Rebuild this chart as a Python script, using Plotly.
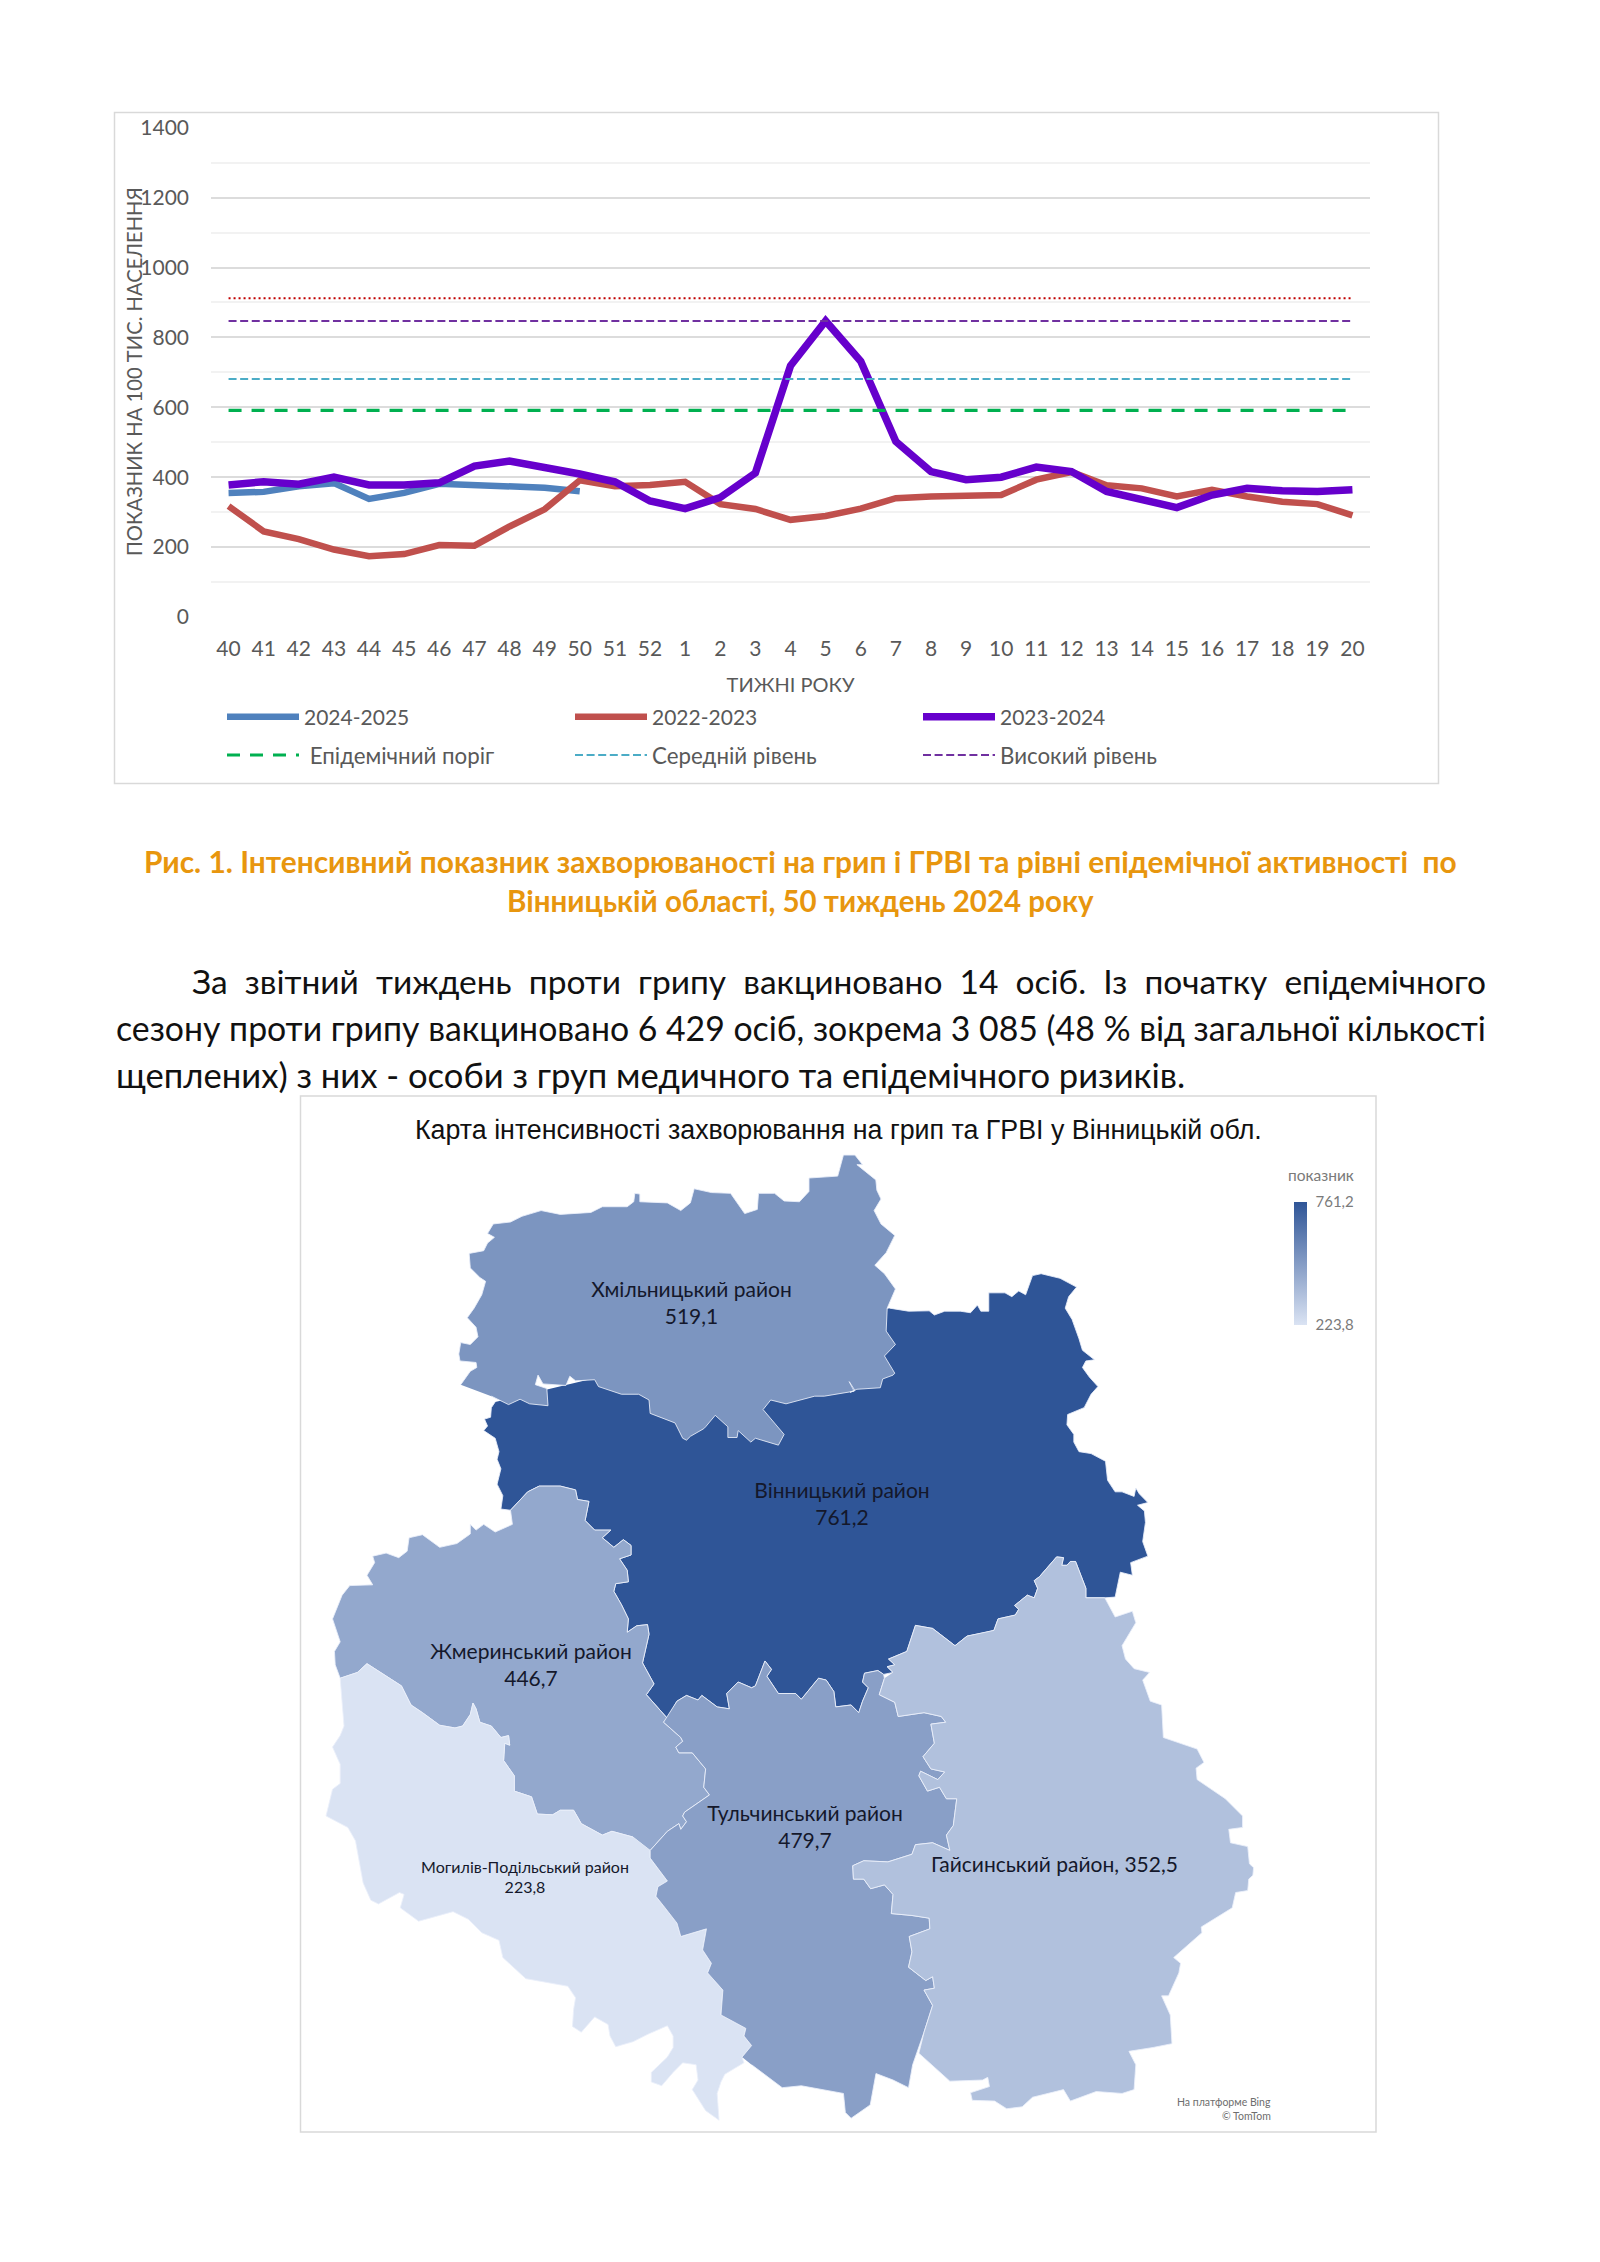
import plotly.graph_objects as go

W, H = 1600, 2262

# ---------- chart data ----------
weeks = ["40","41","42","43","44","45","46","47","48","49","50","51","52","1","2","3","4","5","6","7","8","9","10","11","12","13","14","15","16","17","18","19","20"]
s2024_25 = [355,358,374,383,338,355,381,378,373,370,360]
s2022_23 = [317,245,223,193,174,180,206,204,259,308,391,374,378,387,323,309,278,289,310,340,345,346,349,393,415,377,368,345,364,345,330,323,291]
s2023_24 = [378,387,380,400,378,378,384,432,446,429,409,387,332,310,342,412,719,847,732,502,416,393,400,429,416,359,336,313,349,368,361,359,364]
level_epidemic = 591
level_medium = 681
level_high = 847
level_very_high = 912

# ---------- map data: outlines traced on four reference crops ----------
def A(p): return [(300 + x / 2.613, 1090 + y / 2.613) for x, y in p]
def B(p): return [(850 + x / 2.904, 1090 + y / 2.613) for x, y in p]
def C(p): return [(300 + x / 2.613, 1550 + y / 2.613) for x, y in p]
def D(p): return [(850 + x / 2.904, 1550 + y / 2.613) for x, y in p]

khm_west_north = A([(420,770),(445,735),(462,725),(460,712),(418,708),(415,690),(420,660),(445,665),(465,645),(460,620),(437,595),(455,570),(475,535),(485,500),(470,490),(445,465),(442,427),(480,420),(490,400),(508,385),(490,375),(505,350),(550,345),(580,330),(630,315),(680,325),(760,320),(790,305),(855,305),(872,292),(875,270),(888,272),(888,292),(960,295),(995,315),(1020,295),(1030,258),(1075,268),(1125,270),(1162,323),(1195,312),(1198,270),(1240,270),(1265,290),(1305,292),(1330,265),(1330,230),(1405,225),(1420,170),(1450,170),(1470,195)])
khm_east = B([(20,195),(75,235),(78,262),(90,285),(70,315),(90,350),(130,380),(105,425),(72,458),(100,480),(132,520),(108,570),(105,630),(132,665),(100,695),(130,740),(125,745),(95,755),(88,778),(20,782),(0,790)])
khm_south = A([(1450,785),(1435,762),(1448,787),(1370,800),(1345,800),(1270,820),(1230,810),(1210,835),(1265,900),(1250,928),(1190,910),(1178,920),(1145,890),(1142,908),(1118,908),(1118,880),(1085,850),(1060,880),(1055,885),(1020,905),(1010,915),(1000,910),(980,870),(915,845),(912,810),(885,795),(840,795),(780,775),(770,757),(720,760),(705,748),(695,772),(635,768),(622,745),(615,770),(645,780),(648,825),(600,820),(575,808),(545,822),(520,810),(500,800)])

vin_west = A([(510,815),(500,830),(498,855),(482,860),(490,878),(480,890),(510,910),(520,945),(515,965),(525,990),(515,1030),(530,1060),(525,1095)])
vin_zhm = A([(550,1098),(595,1050),(625,1035),(680,1035),(720,1045),(725,1070),(755,1075),(745,1125),(770,1150),(812,1150),(790,1170),(820,1195),(845,1175),(865,1190),(865,1215),(835,1225),(855,1255),(858,1285),(825,1290),(820,1310),(840,1345),(858,1382)]) + C([(855,215),(880,198),(908,195),(912,220),(895,295),(925,350),(905,378),(960,440)])
vin_tul = C([(985,395),(1010,380),(1040,392),(1050,380),(1090,410),(1122,415),(1115,375),(1145,345),(1180,360),(1190,355),(1215,290),(1232,312),(1220,330),(1250,375),(1295,375),(1310,390),(1355,335),(1375,340),(1395,370),(1400,410),(1440,405),(1460,425),(1470,395),(1485,360),(1470,345),(1475,322),(1510,315),(1525,325)])
vin_hai = D([(125,320),(108,305),(130,300),(112,285),(165,265),(190,197),(240,205),(305,250),(340,225),(395,215),(418,210),(430,180),(480,170),(490,155),(478,145),(515,118),(535,125),(545,100),(535,80),(550,70),(600,18),(620,20),(615,40),(630,40),(640,30),(655,30),(685,100),(685,125),(740,125)])
vin_east = B([(770,1325),(785,1260),(820,1268),(815,1235),(865,1218),(850,1180),(858,1130),(855,1100),(835,1085),(865,1078),(840,1055),(830,1040),(825,1062),(790,1050),(770,1050),(748,1020),(742,970),(700,950),(665,945),(650,920),(650,900),(630,875),(632,848),(680,830),(700,795),(720,775),(695,750),(675,725),(685,708),(710,705),(675,680),(665,650),(645,600),(625,570),(635,540),(658,515),(610,492),(555,480),(530,485),(510,535),(490,525),(470,540),(450,530),(403,530),(403,578),(380,578),(370,562),(350,582),(320,578),(275,578),(245,588),(230,577),(170,578),(115,570)])

zhm_outer = A([(85,1382),(110,1320),(130,1295),(190,1293),(175,1268),(195,1235),(190,1218),(225,1210),(258,1222),(280,1205),(285,1170),(320,1162),(365,1195),(410,1185),(445,1160),(445,1135),(460,1150),(480,1135),(510,1155),(555,1135)])
zhm_start = C([(105,335),(92,300),(90,265),(105,240)])
zhm_tul = C([(950,450),(995,490),(1000,500),(982,515),(990,530),(1025,530),(1060,572),(1055,620),(1070,640),(1005,685),(1000,695),(1010,710),(995,730),(990,715),(960,735),(915,785)])
zhm_moh = C([(870,750),(850,745),(815,735),(790,745),(735,715),(715,680),(680,680),(660,692),(620,690),(605,645),(560,630),(560,590),(532,550),(535,505),(548,510),(545,485),(525,490),(500,460),(470,450),(460,415),(452,400),(445,430),(425,460),(405,465),(365,458),(320,425),(290,405),(265,355),(225,330),(175,297),(150,320),(105,335)])

moh_outer = C([(115,460),(105,485),(85,515),(105,560),(105,610),(85,625),(68,695),(125,725),(145,760),(165,870),(185,915),(205,925),(260,895),(272,900),(262,935),(310,970),(400,945),(440,965),(475,1000),(520,1020),(530,1065),(590,1120),(700,1140),(720,1170),(715,1200),(712,1245),(735,1260),(770,1220),(805,1240),(810,1270),(825,1298),(870,1285),(910,1265),(960,1243),(975,1270),(975,1300),(960,1325),(918,1365),(918,1390),(945,1400),(975,1365),(1000,1340),(1035,1345),(1040,1385),(1025,1410),(1060,1465),(1095,1490),(1090,1420),(1100,1390),(1110,1370),(1160,1340)])
moh_tul = C([(1155,1325),(1180,1295),(1160,1270),(1165,1250),(1100,1215),(1105,1150),(1065,1105),(1075,1080),(1052,1045),(1062,990),(995,1010),(985,975),(950,930),(930,905),(935,880),(960,865),(915,805),(915,785)])

tul_south = C([(1180,1345),(1260,1405),(1310,1400),(1420,1420),(1425,1470),(1440,1485),(1490,1450),(1505,1368)]) + D([(125,1385),(170,1405),(182,1345)])
hai_tul = D([(195,1315),(215,1260),(240,1190),(215,1150),(245,1145),(240,1115),(220,1125),(170,1090),(180,1050),(172,1010),(232,990),(230,962),(180,955),(120,950),(125,900),(100,875),(60,885),(40,860),(10,860),(8,825),(40,812),(110,815),(180,795),(190,770),(240,765),(290,785),(280,745),(300,720),(310,650),(280,650),(260,620),(225,630),(200,590),(205,578),(255,600),(275,580),(235,572),(212,540),(245,505),(235,455),(278,450),(265,435),(215,425),(140,435),(130,398),(85,378),(100,335)])
hai_outer = D([(770,175),(820,160),(830,190),(790,250),(800,285),(825,310),(870,320),(850,340),(872,395),(905,405),(910,490),(1008,520),(1028,555),(1005,570),(1008,600),(1090,650),(1140,695),(1140,725),(1100,730),(1105,765),(1155,775),(1160,820),(1172,830),(1170,850),(1158,860),(1155,890),(1120,895),(1110,935),(1020,985),(1022,1000),(940,1065),(960,1080),(955,1105),(925,1165),(905,1165),(930,1215),(935,1290),(880,1300),(810,1310),(830,1345),(825,1410),(790,1420),(715,1415),(640,1440),(620,1410),(530,1430),(500,1455),(455,1460),(420,1440),(355,1438),(350,1418),(405,1402),(400,1378),(385,1385),(290,1388),(200,1315)])

region_names = ["Вінницький район","Хмільницький район","Жмеринський район","Могилів-Подільський район","Тульчинський район","Гайсинський район"]
region_values = [761.2,519.1,446.7,223.8,479.7,352.5]
region_labels = ["Вінницький район<br>761,2","Хмільницький район<br>519,1","Жмеринський район<br>446,7","Могилів-Подільський район<br>223,8","Тульчинський район<br>479,7","Гайсинський район, 352,5"]
label_x = [842,691.5,531,525,805,1054.5]
label_y = [1506,1305,1667,1879,1829,1867]
label_size = [21,21,21,16,21,21]

region_outlines = [
    vin_west + vin_zhm + vin_tul + vin_hai + vin_east,
    khm_west_north + khm_east + khm_south,
    zhm_start + zhm_outer + vin_zhm + zhm_tul + zhm_moh,
    zhm_moh + moh_outer + moh_tul,
    moh_tul + zhm_tul[::-1] + vin_tul + hai_tul[::-1] + tul_south[::-1],
    vin_hai + hai_outer + hai_tul[1:],
]

LOW, HIGH = (218, 227, 243), (47, 85, 151)
vmin, vmax = min(region_values), max(region_values)
def shade(v):
    t = (v - vmin) / (vmax - vmin)
    return "rgb(%d,%d,%d)" % tuple(round(a + (b - a) * t) for a, b in zip(LOW, HIGH))

GREY = "#595959"
MUTED = "#7a7a7a"
FONT = "Lato"
fig = go.Figure()

# ---------- top chart ----------
fig.add_trace(go.Scatter(x=weeks[:len(s2024_25)], y=s2024_25, name="2024-2025", mode="lines",
                         line=dict(color="#4F81BD", width=6.5), legend="legend"))
fig.add_trace(go.Scatter(x=weeks, y=s2022_23, name="2022-2023", mode="lines",
                         line=dict(color="#C0504D", width=6.5), legend="legend"))
fig.add_trace(go.Scatter(x=weeks, y=s2023_24, name="2023-2024", mode="lines",
                         line=dict(color="#6600CC", width=7.5), legend="legend"))
for name, lvl, col, dash, w, show in [
    ("Дуже високий рівень", level_very_high, "#C00000", "2px,3px", 1.8, False),
    ("\u00a0Епідемічний поріг", level_epidemic, "#00B050", "13px,10px", 3.2, True),
    ("Середній рівень", level_medium, "#4BACC6", "8px,3.6px", 2, True),
    ("Високий рівень", level_high, "#7030A0", "8px,3.6px", 2, True),
]:
    fig.add_trace(go.Scatter(x=weeks, y=[lvl] * len(weeks), name=name, mode="lines", showlegend=show,
                             line=dict(color=col, width=w, dash=dash), legend="legend2"))

# ---------- map ----------
for i in range(len(region_outlines)):
    fig.add_trace(go.Scatter(
        x=[p[0] for p in region_outlines[i]], y=[p[1] for p in region_outlines[i]],
        xaxis="x2", yaxis="y2", mode="lines", fill="toself", fillcolor=shade(region_values[i]),
        line=dict(color="rgba(235,240,250,0.85)", width=1), name=region_names[i], showlegend=False,
        hoverinfo="name"))
fig.add_trace(go.Scatter(
    x=label_x, y=label_y, xaxis="x2", yaxis="y2", mode="markers+text", text=region_labels,
    textposition="middle center", textfont=dict(family=FONT, size=label_size, color="#14182b"),
    showlegend=False, hoverinfo="skip", name="показник",
    marker=dict(size=1, opacity=0, color=region_values, cmin=vmin, cmax=vmax,
                colorscale=[[0, "rgb(218,227,243)"], [1, "rgb(47,85,151)"]],
                colorbar=dict(x=1294 / W, xanchor="left", xpad=0, y=1 - 1202 / H, yanchor="top", ypad=0,
                              lenmode="pixels", len=123, thicknessmode="pixels", thickness=13,
                              outlinewidth=0, ticks="outside", ticklen=6, tickcolor="rgba(0,0,0,0)",
                              tickvals=[vmin, vmax], ticktext=["223,8", "761,2"],
                              tickfont=dict(family=FONT, size=15, color=MUTED)))))

ann = []
def text(x, y, s, size, color, anchor="left", family=FONT, bold=False, angle=0):
    ann.append(dict(x=x, y=y, xref="x2", yref="y2", text="<b>%s</b>" % s if bold else s, showarrow=False,
                    xanchor=anchor, yanchor="middle", textangle=angle, font=dict(family=family, size=size, color=color)))

ORANGE = "#E8960E"
text(800, 861, "Рис. 1. Інтенсивний показник захворюваності на грип і ГРВІ та рівні епідемічної активності\u00a0 по", 29.9, ORANGE, "center", bold=True)
text(800, 900, "Вінницькій області, 50 тиждень 2024 року", 29.5, ORANGE, "center", bold=True)
sp = "\u00a0\u00a0"
text(190, 981, sp.join("За звітний тиждень проти грипу вакциновано 14 осіб. Із початку епідемічного".split()), 33.5, "#111111")
text(114, 1028, "сезону проти грипу вакциновано 6 429 осіб, зокрема 3 085 (48 % від загальної кількості", 33.8, "#111111")
text(114, 1074, "щеплених) з них - особи з груп медичного та епідемічного ризиків.", 34.6, "#111111")
text(838, 1129.5, "Карта інтенсивності захворювання на грип та ГРВІ у Вінницькій обл.", 26.8, "#111111", "center", family="Liberation Sans")
text(1273, 2102, "На платформе Bing", 10.5, "#6e6e6e", "right")
text(1273, 2116, "© TomTom", 10.5, "#6e6e6e", "right")
text(134, 372, "ПОКАЗНИК НА 100 ТИС. НАСЕЛЕННЯ", 20.2, GREY, "center", angle=-90)
text(1321, 1174.5, "показник", 15.5, MUTED, "center")

box = dict(type="rect", xref="x2", yref="y2", line=dict(color="#D9D9D9", width=1.5), layer="below", fillcolor="rgba(0,0,0,0)")
shapes = [dict(box, x0=114.5, x1=1438.5, y0=112.5, y1=783.5), dict(box, x0=300.5, x1=1376, y0=1096, y1=2132)]

legend_common = dict(orientation="h", xanchor="left", yanchor="middle", entrywidth=261, entrywidthmode="pixels",
                     itemwidth=72, bgcolor="rgba(0,0,0,0)", borderwidth=0,
                     traceorder="normal", itemclick=False, itemdoubleclick=False)

fig.update_layout(
    width=W, height=H, autosize=False, margin=dict(l=0, r=0, t=0, b=0, autoexpand=False),
    paper_bgcolor="white", plot_bgcolor="rgba(0,0,0,0)", font=dict(family=FONT, color=GREY),
    xaxis=dict(domain=[211 / W, 1370 / W], type="category", categoryorder="array", categoryarray=weeks,
               range=[-0.5, 32.5], showgrid=False, ticks="", showline=False, zeroline=False,
               tickfont=dict(family=FONT, size=21, color=GREY), ticklabelstandoff=17, tickangle=0, dtick=1,
               title=dict(text="ТИЖНІ РОКУ", font=dict(family=FONT, size=20, color=GREY), standoff=18), fixedrange=True),
    yaxis=dict(domain=[1 - 617 / H, 1 - 127.7 / H], range=[0, 1400], dtick=200, tick0=0,
               showgrid=True, gridcolor="#DCDCDC", gridwidth=2, zeroline=False, showline=False, ticks="",
               minor=dict(dtick=100, showgrid=True, gridcolor="#F2F2F2", gridwidth=1.5),
               tickfont=dict(family=FONT, size=21, color=GREY), ticklabelstandoff=21,
               fixedrange=True),
    xaxis2=dict(domain=[0, 1], range=[0, W], visible=False, fixedrange=True, anchor="y2"),
    yaxis2=dict(domain=[0, 1], range=[H, 0], visible=False, fixedrange=True, anchor="x2"),
    legend=dict(legend_common, x=222 / W, y=1 - 717 / H, font=dict(family=FONT, size=21, color=GREY)),
    legend2=dict(legend_common, x=222 / W, y=1 - 755 / H, font=dict(family=FONT, size=22.3, color=GREY)),
    annotations=ann, shapes=shapes, showlegend=True,
)

fig.write_html("out.html", config={"displayModeBar": False},
               post_script="document.body.style.margin='0';document.documentElement.style.overflow='hidden';")
